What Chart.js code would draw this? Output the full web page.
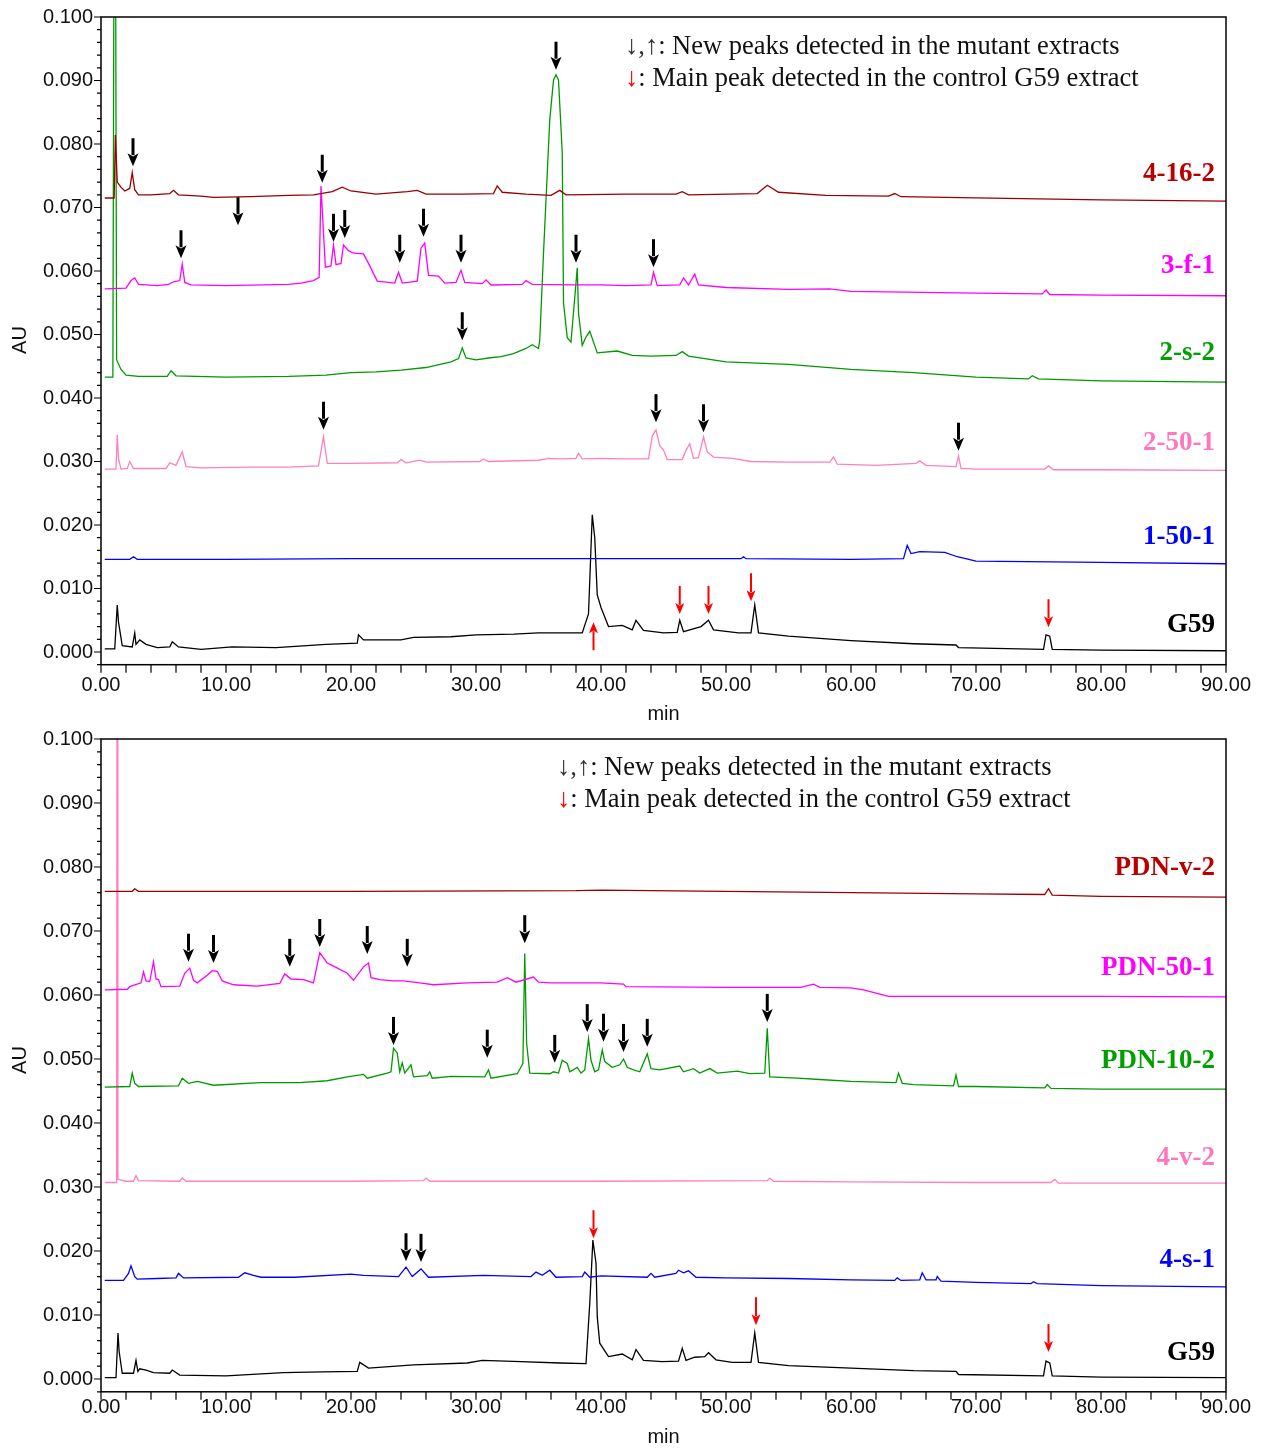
<!DOCTYPE html>
<html>
<head>
<meta charset="utf-8">
<script src="https://cdn.jsdelivr.net/npm/chart.js@4.4.1/dist/chart.umd.min.js"></script>
<style>
  body { margin: 0; background: #fff; }
  canvas { display: block; }
</style>
</head>
<body>
<canvas id="topChart" width="1262" height="725"></canvas>
<canvas id="bottomChart" width="1262" height="725"></canvas>
<script>
// axis ticks
const yTickValues = [0, 0.01, 0.02, 0.03, 0.04, 0.05, 0.06, 0.07, 0.08, 0.09, 0.1];
const xTickValues = [0, 10, 20, 30, 40, 50, 60, 70, 80, 90];

// ---- top panel traces: [min, AU] ----
const s4_16_2 = [[0.3,0.0715],[1.05,0.0715],[1.15,0.0814],[1.3,0.0740],[1.6,0.0732],[1.9,0.0726],[2.3,0.0730],[2.5,0.0755],[2.7,0.0728],[3.0,0.0720],[4.0,0.0720],[5.5,0.0722],[5.8,0.0727],[6.2,0.0720],[8,0.0718],[9,0.0716],[12,0.0717],[15,0.0719],[17,0.0720],[18.5,0.0725],[19.3,0.0732],[20,0.0726],[22,0.0721],[24.5,0.0725],[25.3,0.0727],[26,0.0721],[29,0.0721],[31.4,0.0722],[31.7,0.0734],[32.1,0.0724],[34,0.0721],[36,0.0719],[36.7,0.0727],[37.2,0.0720],[42,0.0721],[46,0.0721],[46.5,0.0725],[47,0.0720],[52.5,0.0722],[53.3,0.0735],[54.2,0.0724],[58,0.0719],[63,0.0718],[63.5,0.0722],[64,0.0717],[70,0.0715],[80,0.0712],[90,0.0710]];
const s3_f_1 = [[0.3,0.0572],[2.0,0.0573],[2.4,0.0585],[2.7,0.0589],[3.0,0.0579],[4.5,0.0577],[5.4,0.0579],[5.8,0.0583],[6.3,0.0585],[6.5,0.0611],[6.7,0.0582],[7.2,0.0578],[10,0.0577],[13,0.0578],[15,0.0579],[16,0.0581],[17,0.0585],[17.45,0.0590],[17.6,0.0734],[17.8,0.0660],[17.95,0.0606],[18.4,0.0608],[18.6,0.0641],[18.8,0.0610],[19.2,0.0612],[19.4,0.0641],[19.8,0.0632],[20.2,0.0628],[21.0,0.0627],[21.4,0.0612],[22.1,0.0584],[23.5,0.0581],[23.8,0.0598],[24.1,0.0581],[25.3,0.0584],[25.6,0.0636],[25.9,0.0644],[26.2,0.0593],[27,0.0592],[27.5,0.0581],[28.4,0.0582],[28.8,0.0601],[29.1,0.0582],[30.5,0.0580],[30.8,0.0586],[31.2,0.0578],[33.7,0.0579],[34.0,0.0585],[34.5,0.0579],[38,0.0578],[40,0.0578],[42,0.0577],[44.0,0.0578],[44.2,0.0598],[44.5,0.0577],[46.3,0.0578],[46.6,0.0589],[47.0,0.0578],[47.5,0.0595],[47.8,0.0578],[50,0.0574],[55,0.0571],[58.3,0.0572],[60,0.0568],[70,0.0565],[75.3,0.0564],[75.6,0.0570],[75.9,0.0563],[80,0.0562],[90,0.0561]];
const s2_s_2 = [[0.3,0.0433],[0.95,0.0433],[1.1,0.16],[1.25,0.0460],[1.6,0.0445],[2,0.0436],[3,0.0434],[5.3,0.0434],[5.6,0.0443],[6,0.0435],[10,0.0433],[15,0.0434],[18,0.0436],[20,0.0440],[22,0.0441],[24,0.0444],[26,0.0448],[28,0.0457],[28.6,0.0462],[28.9,0.0479],[29.2,0.0463],[30,0.0460],[31,0.0463],[32,0.0465],[33,0.0470],[34,0.0478],[34.5,0.0484],[35.0,0.0478],[35.1,0.0491],[35.4,0.0628],[35.9,0.0838],[36.2,0.0901],[36.4,0.0909],[36.6,0.0901],[36.9,0.0786],[37.0,0.0550],[37.3,0.0495],[37.6,0.0488],[38.1,0.0605],[38.2,0.0534],[38.5,0.0483],[38.8,0.0496],[39.1,0.0505],[39.7,0.0471],[41.3,0.0474],[42.5,0.0467],[44,0.0466],[46,0.0467],[46.5,0.0473],[47,0.0466],[50,0.0457],[55,0.0453],[60,0.0445],[65,0.0440],[70,0.0433],[74.2,0.0430],[74.5,0.0435],[75,0.0430],[80,0.0427],[90,0.0425]];
const s2_50_1 = [[0.3,0.0288],[1.2,0.0288],[1.3,0.0342],[1.4,0.0305],[1.6,0.0288],[2.1,0.0289],[2.3,0.0300],[2.6,0.0289],[5.2,0.0289],[5.5,0.0298],[6.0,0.0294],[6.5,0.0315],[6.8,0.0292],[8,0.0290],[12,0.0291],[15,0.0291],[17.4,0.0293],[17.8,0.0339],[18.1,0.0297],[20,0.0297],[23.7,0.0298],[24.0,0.0303],[24.4,0.0298],[25.5,0.0302],[26,0.0299],[30.3,0.0300],[30.6,0.0304],[31,0.0300],[35,0.0302],[35.8,0.0305],[36.7,0.0304],[38.0,0.0305],[38.2,0.0313],[38.5,0.0304],[40,0.0305],[42,0.0304],[43.8,0.0304],[44.1,0.0340],[44.4,0.0350],[44.7,0.0325],[45.0,0.0318],[45.3,0.0303],[46.5,0.0303],[46.8,0.0318],[47.1,0.0328],[47.4,0.0305],[47.8,0.0306],[48.2,0.0339],[48.5,0.0315],[49,0.0307],[50.5,0.0305],[52,0.0300],[55,0.0299],[58.3,0.0299],[58.6,0.0307],[58.9,0.0296],[62,0.0294],[65.2,0.0297],[65.5,0.0301],[66,0.0294],[68.4,0.0292],[68.6,0.0309],[68.8,0.0289],[70,0.0288],[75.5,0.0288],[75.8,0.0293],[76.2,0.0287],[80,0.0287],[90,0.0286]];
const s1_50_1 = [[0.3,0.0146],[2.3,0.0146],[2.6,0.0150],[2.9,0.0146],[10,0.0146],[20,0.0147],[30,0.0147],[40,0.0147],[51.2,0.0147],[51.4,0.0150],[51.6,0.0147],[60,0.0146],[64.2,0.0147],[64.5,0.0168],[64.8,0.0155],[65.5,0.0158],[67.5,0.0157],[68.5,0.0150],[70,0.0143],[80,0.0141],[90,0.0139]];
const sG59top = [[0.3,0.0005],[1.1,0.0005],[1.3,0.0074],[1.4,0.0047],[1.7,0.0010],[2.5,0.0008],[2.7,0.0030],[2.8,0.0012],[3.1,0.0019],[3.6,0.0012],[4.5,0.0007],[5.5,0.0008],[5.7,0.0016],[6.2,0.0008],[8,0.0004],[10.5,0.0008],[14,0.0007],[18,0.0012],[20.5,0.0014],[20.6,0.0027],[21,0.0019],[24,0.0019],[25,0.0023],[28,0.0024],[30,0.0027],[33,0.0028],[35,0.0030],[38.5,0.0030],[39.0,0.0060],[39.3,0.0216],[39.5,0.0180],[39.7,0.0090],[40,0.0070],[40.6,0.0040],[41.7,0.0042],[42.5,0.0035],[42.8,0.0050],[43.4,0.0034],[45,0.0030],[46.1,0.0031],[46.3,0.0050],[46.6,0.0032],[48,0.0040],[48.6,0.0050],[49,0.0035],[51,0.0030],[52.0,0.0030],[52.3,0.0074],[52.6,0.0030],[55,0.0025],[60,0.0018],[65,0.0013],[68.4,0.0011],[68.6,0.0007],[75.4,0.0004],[75.6,0.0027],[75.9,0.0025],[76.1,0.0004],[80,0.0003],[90,0.0002]];

// ---- bottom panel traces ----
const sPDN_v_2 = [[0.3,0.0762],[2.5,0.0762],[2.7,0.0766],[3,0.0762],[20,0.0762],[38,0.0763],[40,0.0764],[50,0.0762],[60,0.0760],[70,0.0758],[75.5,0.0757],[75.8,0.0766],[76.1,0.0756],[80,0.0754],[90,0.0753]];
const sPDN_50_1 = [[0.3,0.0608],[2.1,0.0609],[2.3,0.0613],[3.2,0.0619],[3.4,0.0636],[3.6,0.0622],[3.9,0.0621],[4.2,0.0652],[4.4,0.0625],[4.6,0.0624],[4.8,0.0613],[6.3,0.0614],[6.7,0.0634],[7.1,0.0642],[7.4,0.0623],[7.7,0.0619],[8.5,0.0631],[8.9,0.0638],[9.3,0.0637],[9.7,0.0622],[10.6,0.0616],[12.5,0.0614],[14.3,0.0618],[14.7,0.0633],[15.2,0.0625],[16.2,0.0624],[17.0,0.0619],[17.3,0.0648],[17.5,0.0666],[18.1,0.0650],[18.6,0.0645],[19.7,0.0634],[20.2,0.0623],[21.0,0.0644],[21.4,0.0650],[21.6,0.0627],[22.3,0.0624],[23.4,0.0622],[24.2,0.0622],[25.5,0.0619],[26.6,0.0616],[29.3,0.0619],[31.7,0.0620],[32.5,0.0627],[33.2,0.0620],[34.6,0.0628],[35.0,0.0620],[36,0.0619],[40,0.0619],[41.8,0.0617],[42,0.0613],[50,0.0612],[56,0.0612],[57,0.0617],[57.5,0.0612],[60,0.0611],[61,0.0608],[62,0.0603],[63,0.0598],[70,0.0598],[80,0.0598],[90,0.0597]];
const sPDN_10_2 = [[0.3,0.0456],[2.3,0.0457],[2.5,0.0478],[2.7,0.0462],[3.0,0.0457],[6.2,0.0458],[6.5,0.0470],[7.0,0.0462],[7.7,0.0465],[9,0.0459],[12.7,0.0463],[15.9,0.0463],[18.1,0.0466],[19.7,0.0472],[21.0,0.0476],[21.3,0.0470],[22.9,0.0478],[23.2,0.0480],[23.4,0.0517],[23.7,0.0509],[23.9,0.0480],[24.1,0.0494],[24.3,0.0478],[24.8,0.0491],[25.0,0.0472],[26.1,0.0474],[26.3,0.0480],[26.5,0.0470],[28,0.0473],[30.7,0.0472],[31.0,0.0483],[31.2,0.0470],[33.3,0.0477],[33.75,0.0493],[33.9,0.0665],[34.05,0.0525],[34.3,0.0478],[35.9,0.0477],[36.2,0.0480],[36.6,0.0478],[36.9,0.0498],[37.3,0.0493],[37.5,0.0480],[38.1,0.0487],[38.4,0.0478],[38.7,0.0483],[39.0,0.0532],[39.2,0.0498],[39.5,0.0480],[39.8,0.0483],[40.1,0.0514],[40.3,0.0496],[40.9,0.0487],[41.5,0.0491],[41.8,0.0500],[42.1,0.0487],[42.6,0.0483],[43.1,0.0480],[43.7,0.0508],[44.0,0.0485],[44.7,0.0483],[46.3,0.0489],[46.6,0.0480],[47.4,0.0485],[47.9,0.0478],[48.7,0.0485],[49.3,0.0478],[50.9,0.0481],[51.9,0.0477],[53.1,0.0478],[53.3,0.0548],[53.5,0.0472],[55.7,0.0470],[57.5,0.0468],[60,0.0465],[63.6,0.0463],[63.8,0.0478],[64.1,0.0462],[65,0.0460],[68.2,0.0458],[68.4,0.0475],[68.6,0.0457],[70,0.0457],[75.5,0.0455],[75.7,0.0460],[76,0.0454],[80,0.0453],[90,0.0453]];
const s4_v_2 = [[0.3,0.0307],[1.25,0.0307],[1.3,0.16],[1.35,0.0312],[2.0,0.0309],[2.6,0.0309],[2.8,0.0318],[3.0,0.0310],[6.3,0.0309],[6.5,0.0314],[6.8,0.0309],[20,0.0309],[25.8,0.0310],[26,0.0314],[26.3,0.0309],[40,0.0309],[53.3,0.0310],[53.5,0.0314],[53.8,0.0309],[60,0.0308],[70,0.0307],[76.0,0.0307],[76.3,0.0312],[76.6,0.0306],[80,0.0306],[90,0.0306]];
const s4_s_1 = [[0.3,0.0154],[1.8,0.0154],[2.2,0.0165],[2.4,0.0177],[2.7,0.0160],[2.9,0.0156],[4.5,0.0157],[6.0,0.0158],[6.2,0.0165],[6.6,0.0158],[11.0,0.0159],[11.5,0.0166],[12.2,0.0162],[12.8,0.0159],[15.5,0.0159],[20.0,0.0164],[21.0,0.0162],[23.8,0.0160],[24.4,0.0175],[24.9,0.0160],[25.6,0.0172],[26.2,0.0159],[30.6,0.0162],[34.4,0.0160],[34.8,0.0167],[35.3,0.0162],[35.9,0.0170],[36.4,0.0159],[38.5,0.0160],[38.7,0.0167],[39.1,0.0159],[40,0.0161],[43.7,0.0159],[44.0,0.0165],[44.3,0.0159],[46.0,0.0165],[46.2,0.0170],[46.6,0.0166],[47.0,0.0169],[47.6,0.0159],[50,0.0158],[55,0.0157],[60,0.0155],[63.5,0.0154],[63.7,0.0158],[64,0.0154],[65.5,0.0155],[65.7,0.0166],[66.0,0.0155],[66.8,0.0155],[66.9,0.0160],[67.2,0.0153],[70,0.0151],[74.4,0.0149],[74.6,0.0152],[74.9,0.0149],[80,0.0146],[90,0.0144]];
const sG59bottom = [[0.3,0.0002],[1.2,0.0002],[1.36,0.0072],[1.45,0.0043],[1.7,0.0009],[2.6,0.0009],[2.8,0.0029],[2.95,0.0012],[3.1,0.0016],[3.6,0.0014],[4.2,0.0010],[5.5,0.0009],[5.7,0.0014],[6.3,0.0006],[10,0.0005],[14.6,0.0010],[17.7,0.0011],[20.5,0.0012],[20.7,0.0026],[21.4,0.0017],[25.0,0.0022],[29.3,0.0025],[30.5,0.0029],[33.6,0.0027],[36.7,0.0025],[38.8,0.0024],[39.1,0.0118],[39.35,0.0217],[39.6,0.0181],[39.7,0.0097],[39.9,0.0056],[40.6,0.0035],[41.7,0.0039],[42.5,0.0030],[42.8,0.0046],[43.4,0.0029],[44.9,0.0027],[46.2,0.0028],[46.5,0.0048],[46.8,0.0029],[47.5,0.0034],[48.3,0.0035],[48.6,0.0041],[49.2,0.0030],[50.5,0.0026],[52.0,0.0026],[52.3,0.0072],[52.6,0.0026],[55,0.0021],[60,0.0017],[65,0.0013],[68.4,0.0012],[68.6,0.0007],[75.4,0.0005],[75.6,0.0028],[75.9,0.0025],[76.1,0.0005],[80,0.0003],[90,0.0002]];

// sample names and the AU level their label sits at
const topNames = ["4-16-2", "3-f-1", "2-s-2", "2-50-1", "1-50-1", "G59"];
const topLabelAU = [0.0753, 0.0608, 0.0471, 0.0329, 0.0181, 0.0042];
const bottomNames = ["PDN-v-2", "PDN-50-1", "PDN-10-2", "4-v-2", "4-s-1", "G59"];
const bottomLabelAU = [0.0798, 0.0642, 0.0497, 0.0345, 0.0186, 0.0041];

// arrow tips [min, AU]
const topBlackArrows = [[2.56,0.0765],[10.96,0.0672],[17.7,0.0739],[6.4,0.0620],[18.6,0.0646],[19.5,0.0652],[23.9,0.0613],[25.8,0.0654],[28.8,0.0613],[38.0,0.0613],[44.2,0.0606],[36.4,0.0917],[28.9,0.0491],[17.8,0.0350],[44.4,0.0362],[48.2,0.0346],[68.6,0.0317]];
const topRedArrows = [[46.3,0.0060],[48.6,0.0060],[52.0,0.0080],[75.8,0.0039]];
const topRedUpArrows = [[39.4,0.0047]];
const bottomBlackArrows = [[7.0,0.0652],[9.0,0.0650],[15.1,0.0644],[17.5,0.0675],[21.3,0.0664],[24.5,0.0644],[33.9,0.0681],[23.4,0.0522],[30.9,0.0502],[36.3,0.0494],[38.9,0.0542],[40.2,0.0527],[41.8,0.0511],[43.7,0.0519],[53.3,0.0558],[24.4,0.0184],[25.6,0.0183]];
const bottomRedArrows = [[39.4,0.0220],[52.4,0.0084],[75.8,0.0042]];
const bottomRedUpArrows = [];

const traceColors = {
  "4-16-2": "#990000", "3-f-1": "#ff00ff", "2-s-2": "#009a00", "2-50-1": "#ff7fbf", "1-50-1": "#0000ff", "G59": "#000000",
  "PDN-v-2": "#990000", "PDN-50-1": "#ff00ff", "PDN-10-2": "#009a00", "4-v-2": "#ff7fbf", "4-s-1": "#0000ff"
};
const labelColors = {
  "4-16-2": "#b80000", "3-f-1": "#ff00ff", "2-s-2": "#00a000", "2-50-1": "#ff77bb", "1-50-1": "#0000ff", "G59": "#000000",
  "PDN-v-2": "#b80000", "PDN-50-1": "#ff00ff", "PDN-10-2": "#00a000", "4-v-2": "#ff77bb", "4-s-1": "#0000ff"
};

const toXY = arr => arr.map(p => ({ x: p[0], y: p[1] }));

function drawArrow(ctx, x, yTip, color, thick, up) {
  const dir = up ? -1 : 1;
  const len = 28, headH = thick ? 13 : 11, headW = thick ? 11 : 9;
  ctx.save();
  ctx.strokeStyle = color;
  ctx.fillStyle = color;
  ctx.lineWidth = thick ? 3 : 2;
  ctx.beginPath();
  ctx.moveTo(x, yTip - dir * len);
  ctx.lineTo(x, yTip - dir * (headH - 2));
  ctx.stroke();
  ctx.beginPath();
  ctx.moveTo(x, yTip);
  ctx.lineTo(x - headW / 2, yTip - dir * headH);
  ctx.lineTo(x, yTip - dir * headH * 0.75);
  ctx.lineTo(x + headW / 2, yTip - dir * headH);
  ctx.closePath();
  ctx.fill();
  ctx.restore();
}

function decorPlugin(spec) {
  return {
    id: "decor",
    afterDraw(chart) {
      const ctx = chart.ctx;
      const xs = chart.scales.x, ys = chart.scales.y;
      const area = chart.chartArea;
      ctx.save();
      // frame
      ctx.strokeStyle = "#000";
      ctx.lineWidth = 1.5;
      ctx.strokeRect(area.left, area.top, area.right - area.left, area.bottom - area.top);
      // y ticks, minor every 0.002
      ctx.lineWidth = 1.2;
      ctx.beginPath();
      for (let i = -1; i <= 50; i++) {
        const y = ys.getPixelForValue(i * 0.002);
        const l = (i % 5 === 0) ? 7 : 4;
        ctx.moveTo(area.left - l, y);
        ctx.lineTo(area.left, y);
      }
      // x ticks every 2 min
      for (let t = 0; t <= 90; t += 2) {
        const x = xs.getPixelForValue(t);
        ctx.moveTo(x, area.bottom);
        ctx.lineTo(x, area.bottom + 8);
      }
      ctx.stroke();

      // axis titles
      ctx.fillStyle = "#111";
      ctx.font = "20px 'Liberation Sans', Arial, sans-serif";
      ctx.textAlign = "center";
      ctx.textBaseline = "middle";
      ctx.fillText("min", (area.left + area.right) / 2, spec.minY);
      ctx.save();
      ctx.translate(20, spec.auY);
      ctx.rotate(-Math.PI / 2);
      ctx.fillText("AU", 0, 0);
      ctx.restore();

      // sample labels
      ctx.font = "bold 27px 'Liberation Serif', 'Times New Roman', serif";
      ctx.textAlign = "right";
      spec.names.forEach((n, i) => {
        ctx.fillStyle = labelColors[n];
        ctx.fillText(n, area.right - 11, ys.getPixelForValue(spec.labelAU[i]));
      });

      // arrows
      spec.black.forEach(a => drawArrow(ctx, xs.getPixelForValue(a[0]), ys.getPixelForValue(a[1]), "#000", true, false));
      spec.red.forEach(a => drawArrow(ctx, xs.getPixelForValue(a[0]), ys.getPixelForValue(a[1]), "#ff0000", false, false));
      spec.redUp.forEach(a => drawArrow(ctx, xs.getPixelForValue(a[0]), ys.getPixelForValue(a[1]), "#ff0000", false, true));

      // note text
      ctx.font = "26.5px 'Liberation Serif', 'Times New Roman', serif";
      ctx.textAlign = "left";
      let x = spec.noteX;
      ctx.fillStyle = "#333";
      ctx.fillText("\u2193,\u2191", x, spec.noteY1);
      x += ctx.measureText("\u2193,\u2191").width;
      ctx.fillStyle = "#111";
      ctx.fillText(": New peaks detected in the mutant extracts", x, spec.noteY1);
      x = spec.noteX;
      ctx.fillStyle = "#ff0000";
      ctx.fillText("\u2193", x, spec.noteY2);
      x += ctx.measureText("\u2193").width;
      ctx.fillStyle = "#111";
      ctx.fillText(": Main peak detected in the control G59 extract", x, spec.noteY2);
      ctx.restore();
    }
  };
}

function makeChart(id, names, series, spec) {
  const datasets = names.map((n, i) => ({
    label: n,
    data: toXY(series[i]),
    borderColor: traceColors[n],
    borderWidth: 1.3,
    pointRadius: 0,
    fill: false,
    tension: 0
  }));
  return new Chart(document.getElementById(id), {
    type: "line",
    data: { datasets },
    options: {
      responsive: false,
      animation: false,
      layout: { padding: { left: 0, right: 36, top: spec.padTop, bottom: 0 } },
      plugins: { legend: { display: false }, tooltip: { enabled: false } },
      scales: {
        x: {
          type: "linear",
          min: 0,
          max: 90,
          afterBuildTicks: s => { s.ticks = xTickValues.map(v => ({ value: v })); },
          afterFit: s => { s.height = spec.xAxisHeight; s.paddingLeft = 0; s.paddingRight = 0; },
          grid: { display: false, drawTicks: false },
          border: { display: false },
          ticks: {
            autoSkip: false,
            maxRotation: 0,
            padding: spec.xPad,
            color: "#111",
            font: { family: "'Liberation Sans', Arial, sans-serif", size: 20 },
            callback: v => Number(v).toFixed(2)
          }
        },
        y: {
          type: "linear",
          min: -0.002,
          max: 0.1,
          afterBuildTicks: s => { s.ticks = yTickValues.map(v => ({ value: v })); },
          afterFit: s => { s.width = 101; s.paddingTop = 0; s.paddingBottom = 0; },
          grid: { display: false, drawTicks: false },
          border: { display: false },
          ticks: {
            autoSkip: false,
            padding: 8,
            color: "#111",
            font: { family: "'Liberation Sans', Arial, sans-serif", size: 20 },
            callback: v => Number(v).toFixed(3)
          }
        }
      }
    },
    plugins: [decorPlugin(spec)]
  });
}

makeChart("topChart", topNames, [s4_16_2, s3_f_1, s2_s_2, s2_50_1, s1_50_1, sG59top], {
  padTop: 17, xAxisHeight: 60.3, xPad: 9, minY: 714, auY: 340,
  names: topNames, labelAU: topLabelAU,
  black: topBlackArrows, red: topRedArrows, redUp: topRedUpArrows,
  noteX: 625, noteY1: 47, noteY2: 79
});

makeChart("bottomChart", bottomNames, [sPDN_v_2, sPDN_50_1, sPDN_10_2, s4_v_2, s4_s_1, sG59bottom], {
  padTop: 14, xAxisHeight: 58.2, xPad: 4, minY: 712, auY: 335,
  names: bottomNames, labelAU: bottomLabelAU,
  black: bottomBlackArrows, red: bottomRedArrows, redUp: bottomRedUpArrows,
  noteX: 557, noteY1: 43, noteY2: 75
});
</script>
</body>
</html>
